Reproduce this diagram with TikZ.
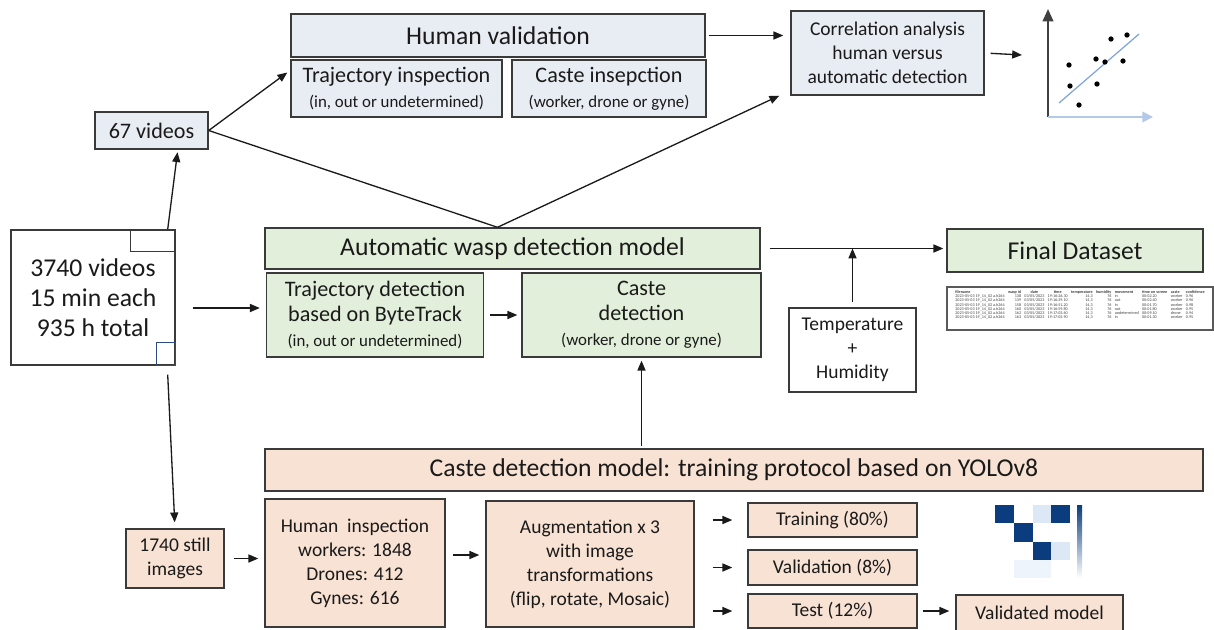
\documentclass[tikz,border=0pt]{standalone}
\usepackage{fontspec}
\setmainfont{Carlito}
\usetikzlibrary{arrows.meta}

\definecolor{edge}{HTML}{3A3A3A}
\definecolor{txt}{HTML}{1A1A1A}
\definecolor{hvfill}{HTML}{E8ECF3}
\definecolor{adfill}{HTML}{E2EFDA}
\definecolor{trfill}{HTML}{F8E2D4}
\definecolor{cmdark}{HTML}{0B3C7D}
\definecolor{cmlight}{HTML}{DCE8F5}
\definecolor{cmpale}{HTML}{EEF4FB}
\definecolor{axblue}{HTML}{B4C8E8}
\definecolor{fitblue}{HTML}{7FA3DD}
\definecolor{corner}{HTML}{2E4C7E}

\newcommand{\fn}{2023-05-03 19\_14\_02 a.h264}

\begin{document}
\begin{tikzpicture}[x=0.02cm,y=-0.02cm,
    >={Triangle[length=5.6pt,width=4.6pt]},
    sz/.style 2 args={minimum width=#1*0.02cm,minimum height=#2*0.02cm},
    box/.style={draw=edge,line width=0.8pt,inner sep=0pt,align=center,text=txt},
    hvbox/.style={box,fill=hvfill},
    adbox/.style={box,fill=adfill},
    trbox/.style={box,fill=trfill},
    hd/.style={font=\fontsize{14.6}{17}\selectfont},
    md/.style={font=\fontsize{12.6}{14.3}\selectfont},
    sm/.style={font=\fontsize{11.1}{13.6}\selectfont},
    link/.style={->,draw=txt,line width=0.75pt}]
\useasboundingbox (0,0) rectangle (1214,629);

% human validation
\node[hvbox,hd,sz={414}{43}] (hval) at (498,35.5) {Human validation};
\node[hvbox,md,sz={211}{57}] (tinsp) at (396.5,88.5) {Trajectory inspection\\{\fontsize{9.6}{11}\selectfont(in, out or undetermined)}};
\node[hvbox,md,sz={194}{57}] (cinsp) at (609,88.5) {Caste insepction\\{\fontsize{9.6}{11}\selectfont(worker, drone or gyne)}};
\node[hvbox,sm,sz={193}{84}] (corr) at (887.5,53) {Correlation analysis\\human versus\\automatic detection};
\node[hvbox,md,sz={113}{37}] (v67) at (151.5,130.5) {67 videos};

\node[box,fill=white,hd,sz={164}{135}] (v3740) at (93,297.5) {3740 videos\\15 min each\\935 h total};
\draw[edge,line width=0.6pt] (v3740.north east) rectangle ++(-45,22);
\draw[corner,line width=0.8pt] (v3740.south east) rectangle ++(-19,-23);

% automatic detection
\node[adbox,hd,sz={495}{41}] (auto) at (512.5,248.5) {Automatic wasp detection model};
\node[adbox,md,sz={217}{84}] (tdet) at (375,315) {Trajectory detection\\based on ByteTrack\\{\fontsize{9.6}{11}\selectfont(in, out or undetermined)}};
\node[adbox,md,sz={239}{84}] (cdet) at (641.5,315) {Caste\\detection\\{\fontsize{9.6}{11}\selectfont(worker, drone or gyne)}};
\node[box,fill=white,sm,sz={127}{84}] (temp) at (852.5,350) {Temperature\\+\\Humidity};
\node[adbox,hd,sz={256}{43}] (final) at (1075,250.5) {Final Dataset};

\node[draw=black!65,line width=0.8pt,fill=white,sz={266}{43},inner sep=0pt] (tab) at (1080,308.5) {};
\node[anchor=north,inner sep=0pt,text=black!75,font=\fontsize{2.35}{2.45}\selectfont] (tabtxt) at ([yshift=-0.07cm]tab.north)
  {\setlength\tabcolsep{0.95pt}\begin{tabular}{lrccrrllll}
   \bfseries filename & \bfseries wasp id & \bfseries date & \bfseries time & \bfseries temperature & \bfseries humidity & \bfseries movement & \bfseries time on screen & \bfseries caste & \bfseries confidence\\
   \fn & 138 & 03/05/2023 & 19:16:26.30 & 14,3 & 76 & in & 00:02.20 & worker & 0.96\\
   \fn & 139 & 03/05/2023 & 19:16:29.10 & 14,3 & 76 & out & 00:02.40 & worker & 0.96\\
   \fn & 158 & 03/05/2023 & 19:16:51.20 & 14,3 & 76 & in & 00:01.70 & worker & 0.98\\
   \fn & 160 & 03/05/2023 & 19:16:59.80 & 14,3 & 76 & out & 00:01.80 & worker & 0.95\\
   \fn & 162 & 03/05/2023 & 19:17:03.60 & 14,3 & 76 & undetermined & 00:09.10 & drone & 0.94\\
   \fn & 163 & 03/05/2023 & 19:17:03.90 & 14,3 & 76 & in & 00:01.30 & worker & 0.95
  \end{tabular}};

% training protocol
\node[trbox,hd,sz={938}{42}] (proto) at (734,470) {Caste detection model: training protocol based on YOLOv8};
\node[trbox,sm,sz={98}{59}] (still) at (175,558.5) {1740 still\\images};
\node[trbox,sm,sz={180}{128}] (hinsp) at (355,563) {Human~ inspection\\workers: 1848\\Drones: 412\\Gynes: 616};
\node[trbox,sm,sz={208}{126}] (aug) at (590,564) {Augmentation x 3\\with image\\transformations\\(flip, rotate, Mosaic)};
\node[trbox,sm,sz={169}{34}] (train) at (832.5,520) {Training (80\%)};
\node[trbox,sm,sz={169}{35}] (valid) at (832.5,567.5) {Validation (8\%)};
\node[trbox,sm,sz={169}{34}] (test) at (832.5,611) {Test (12\%)};
\node[trbox,sm,sz={167}{36}] (vmodel) at (1039.5,613) {Validated model};

% scatter plot
\coordinate (org) at (1048,117);
\coordinate (pin) at (1022,55);
\draw[-{Triangle[length=7pt,width=6pt]},black!75,line width=1.2pt] (org) -- (1048,9);
\draw[-{Triangle[length=6pt,width=6pt]},axblue,line width=1pt] (org) -- (1153,117);
\draw[fitblue,line width=0.7pt] (1059,103) -- (1139,34);
\foreach \p in {(1069,65),(1070,86),(1079,105),(1096,59),(1097,84),(1105,62),(1111,39),(1123,61),(1127,35)}
  \fill \p circle (1.5pt);

% confusion matrix
\foreach \r/\c/\s in {1/1/cmdark,1/4/cmdark,2/2/cmdark,3/3/cmdark,1/3/cmlight,3/4/cmlight,4/2/cmpale,4/3/cmpale}
  \fill[\s] ({995+(\c-1)*18.8},{505+(\r-1)*18.3}) rectangle ++(18.8,18.3);
\shade[top color=cmdark,bottom color=white] (1077,505) rectangle (1082,578);

% connectors
\coordinate (apex) at ([xshift=-0.3cm]auto.north);
\coordinate (in1) at ([yshift=0.14cm]tdet.west);
\coordinate (in2) at ([yshift=0.18cm]aug.west);
\draw[link] ([xshift=-0.16cm]v3740.north east) -- ([xshift=0.52cm,yshift=-0.05cm]v67.south);
\draw[link] (v67.east) -- ([xshift=-0.06cm,yshift=0.32cm]tinsp.west);
\draw[draw=txt,line width=0.75pt] (v67.east) -- (apex);
\draw[link] (apex) -- ([xshift=-0.22cm]corr.south west);
\draw[link,shorten <=0.06cm,shorten >=0.14cm] (hval.east) -- (corr.west |- hval.east);
\draw[link,shorten <=0.12cm] (corr.east) -- (pin);
\draw[link,shorten <=0.34cm,shorten >=0.12cm] (in1 -| v3740.east) -- (in1);
\draw[link,shorten <=0.12cm,shorten >=0.08cm] (tdet.east) -- (cdet.west);
\draw[link,shorten <=0.18cm,shorten >=0.06cm] (auto.east) -- (auto.east -| final.west);
\draw[link,shorten <=0.1cm] (temp.north) -- (temp.north |- auto.east);
\draw[link,shorten <=0.04cm,shorten >=0.06cm] (proto.north -| cdet.south) -- (cdet.south);
\draw[link,shorten >=0.12cm] ([xshift=-0.16cm,yshift=-0.18cm]v3740.south east) -- (still.north);
\draw[link,shorten <=0.18cm,shorten >=0.12cm] (still.east) -- (still.east -| hinsp.west);
\draw[link,shorten <=0.14cm,shorten >=0.12cm] (in2 -| hinsp.east) -- (in2);
\foreach \t in {train,valid,test}
  \draw[link,shorten <=0.36cm,shorten >=0.3cm] (aug.east |- \t.west) -- (\t.west);
\draw[link,shorten <=0.1cm,shorten >=0.12cm] (test.east) -- (test.east -| vmodel.west);
\end{tikzpicture}
\end{document}
